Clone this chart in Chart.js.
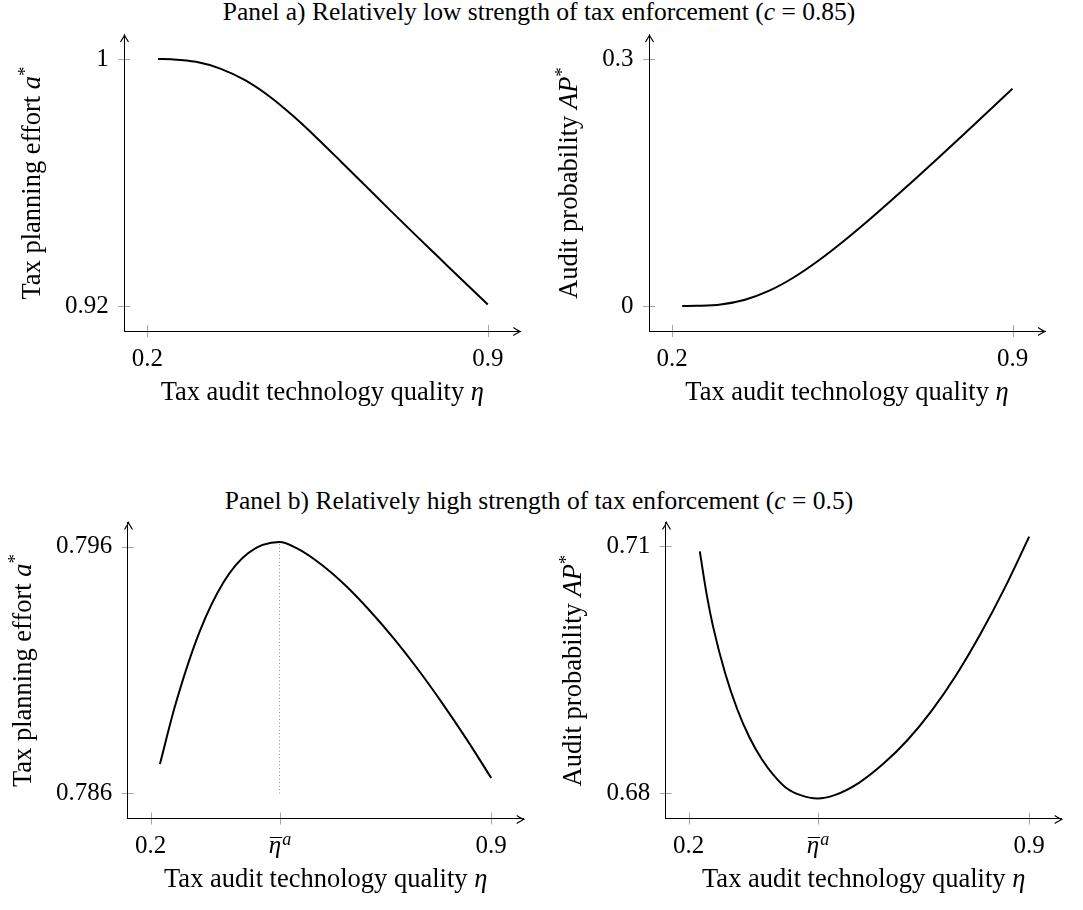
<!DOCTYPE html>
<html>
<head>
<meta charset="utf-8">
<script src="https://cdn.jsdelivr.net/npm/chart.js@4.4.1/dist/chart.umd.min.js"></script>
<style>
  body { margin: 0; background: #fff; width: 1083px; height: 910px; position: relative; overflow: hidden; font-family: "Liberation Serif", "Times New Roman", serif; }
  .titulo { position: absolute; left: 0; width: 1078px; text-align: center; font-size: 25.5px; line-height: 1; color: #000; white-space: nowrap; }
  canvas { position: absolute; }
</style>
</head>
<body>
<div class="titulo" style="top:-1px">Panel a) Relatively low strength of tax enforcement (<i>c</i> = 0.85)</div>
<div class="titulo" style="top:487.5px">Panel b) Relatively high strength of tax enforcement (<i>c</i> = 0.5)</div>
<canvas id="graficoAEsq"></canvas>
<canvas id="graficoADir"></canvas>
<canvas id="graficoBEsq"></canvas>
<canvas id="graficoBDir"></canvas>
<script>
// valores
const ETA_BAR = 0.4648;

const etaEsforcoA = [0.222, 0.25, 0.30, 0.35, 0.40, 0.45, 0.50, 0.55, 0.60, 0.65, 0.70, 0.75, 0.80, 0.85, 0.90];
const esforcoA = [1.0000, 0.9999, 0.9991, 0.9969, 0.9932, 0.9880, 0.9815, 0.9742, 0.9665, 0.9587, 0.9509, 0.9432, 0.9356, 0.9280, 0.9205];

const etaProbA = [0.221, 0.25, 0.30, 0.35, 0.40, 0.45, 0.50, 0.55, 0.60, 0.65, 0.70, 0.75, 0.80, 0.85, 0.90];
const probA = [0.0000, 0.0002, 0.0018, 0.0076, 0.0186, 0.0346, 0.0546, 0.0774, 0.1020, 0.1278, 0.1543, 0.1813, 0.2086, 0.2362, 0.2640];

const etaEsforcoB = [0.219, 0.25, 0.30, 0.35, 0.40, ETA_BAR, 0.50, 0.55, 0.60, 0.65, 0.70, 0.75, 0.80, 0.85, 0.90];
const esforcoB = [0.78719, 0.78954, 0.79252, 0.79456, 0.79573, 0.79618, 0.79593, 0.79528, 0.79443, 0.79341, 0.79227, 0.79101, 0.78964, 0.78818, 0.78663];

const etaProbB = [0.2228, 0.2375, 0.25, 0.275, 0.30, 0.325, 0.35, 0.375, 0.40, 0.43, ETA_BAR, 0.50, 0.55, 0.60, 0.65, 0.70, 0.75, 0.80, 0.85, 0.90];
const probB = [0.7094, 0.7040, 0.7003, 0.6946, 0.6902, 0.6868, 0.6842, 0.6822, 0.6807, 0.6798, 0.6794, 0.6798, 0.6813, 0.6836, 0.6865, 0.6901, 0.6944, 0.6994, 0.7050, 0.7112];

const ticksXA = [0.2, 0.9];
const ticksXB = [0.2, ETA_BAR, 0.9];
const ticksEsforcoA = [0.92, 1];
const ticksProbA = [0, 0.3];
const ticksEsforcoB = [0.786, 0.796];
const ticksProbB = [0.68, 0.71];

const tituloX = [{ t: "Tax audit technology quality " }, { t: "η", i: true }];
const tituloEsforco = [{ t: "Tax planning effort " }, { t: "a", i: true }, { t: "*", sup: true }];
const tituloProb = [{ t: "Audit probability " }, { t: "AP", i: true }, { t: "*", sup: true }];

// geometria
const FONTE = '"Liberation Serif", "Times New Roman", serif';
const TAM_TICK = 25;
const TAM_TITULO = 26.5;
const LARG_AREA = 396;
const ALT_AREA = 296;
const MARGEM_ESQ = 23, MARGEM_DIR = 32.5, MARGEM_SUP = 24, MARGEM_INF = 25;
const LARG_Y = 100, ALT_X = 60;
const PAD_TICK_Y = 15.5;

function fonte(p, tam) {
  return (p.i ? "italic " : "") + (p.sup ? tam * 0.72 : tam) + "px " + FONTE;
}

function textoRico(ctx, partes, x, y, tam) {
  let total = 0;
  partes.forEach((p) => {
    ctx.font = fonte(p, tam);
    total += ctx.measureText(p.t).width;
  });
  let cx = x - total / 2;
  partes.forEach((p) => {
    ctx.font = fonte(p, tam);
    ctx.fillText(p.t, cx, y - (p.sup ? tam * 0.36 : 0));
    cx += ctx.measureText(p.t).width;
  });
}

const pluginEixos = {
  id: "eixos",
  beforeDraw(chart) {
    const { ctx, chartArea: a, scales } = chart;
    ctx.save();
    ctx.strokeStyle = "#a6a6a6";
    ctx.lineWidth = 1;
    ctx.beginPath();
    scales.x.ticks.forEach((t) => {
      const px = Math.round(scales.x.getPixelForValue(t.value)) + 0.5;
      ctx.moveTo(px, a.bottom - 6);
      ctx.lineTo(px, a.bottom + 6);
    });
    scales.y.ticks.forEach((t) => {
      const py = Math.round(scales.y.getPixelForValue(t.value)) + 0.5;
      ctx.moveTo(a.left - 6, py);
      ctx.lineTo(a.left + 6, py);
    });
    ctx.stroke();
    ctx.restore();
  },
  afterDraw(chart, args, opts) {
    const { ctx, chartArea: a, scales } = chart;
    ctx.save();
    ctx.strokeStyle = "#000";
    ctx.fillStyle = "#000";
    ctx.lineWidth = 1.1;

    // setas nos eixos
    const yx = Math.round(a.bottom) + 0.5;
    ctx.beginPath();
    ctx.moveTo(a.right - 7, yx - 4);
    ctx.quadraticCurveTo(a.right - 2, yx - 0.8, a.right, yx);
    ctx.quadraticCurveTo(a.right - 2, yx + 0.8, a.right - 7, yx + 4);
    ctx.stroke();
    const xy = Math.round(a.left) + 0.5;
    ctx.beginPath();
    ctx.moveTo(xy - 4, a.top + 7);
    ctx.quadraticCurveTo(xy - 0.8, a.top + 2, xy, a.top);
    ctx.quadraticCurveTo(xy + 0.8, a.top + 2, xy + 4, a.top + 7);
    ctx.stroke();

    ctx.textBaseline = "alphabetic";
    ctx.textAlign = "left";

    // rotulo eta barra
    if (opts.etaBar) {
      const px = scales.x.getPixelForValue(ETA_BAR);
      const base = a.bottom + 34.5;
      ctx.font = "italic " + TAM_TICK + "px " + FONTE;
      const wEta = ctx.measureText("η").width;
      ctx.font = "italic " + TAM_TICK * 0.72 + "px " + FONTE;
      const wA = ctx.measureText("a").width;
      const x0 = px - (wEta + wA) / 2;
      ctx.font = "italic " + TAM_TICK + "px " + FONTE;
      ctx.fillText("η", x0, base);
      ctx.font = "italic " + TAM_TICK * 0.72 + "px " + FONTE;
      ctx.fillText("a", x0 + wEta + 1, base - 8.5);
      ctx.lineWidth = 1;
      ctx.beginPath();
      ctx.moveTo(x0 + 1, base - 15.5);
      ctx.lineTo(x0 + wEta + 1, base - 15.5);
      ctx.stroke();
    }

    // titulo do eixo x
    textoRico(ctx, opts.tituloX, (a.left + a.right) / 2, a.bottom + 68.5, TAM_TITULO);

    // titulo do eixo y, afastado conforme o rotulo mais largo
    ctx.font = TAM_TICK + "px " + FONTE;
    let maior = 0;
    scales.y.ticks.forEach((t) => {
      maior = Math.max(maior, ctx.measureText(t.label).width);
    });
    const bx = a.left - PAD_TICK_Y - maior - 25;
    ctx.translate(bx, (a.top + a.bottom) / 2);
    ctx.rotate(-Math.PI / 2);
    textoRico(ctx, opts.tituloY, 0, 0, TAM_TITULO);
    ctx.restore();
  }
};

function faixa(ticks, tamanho, m1, m2) {
  const lo = ticks[0], hi = ticks[ticks.length - 1];
  const porPx = (hi - lo) / (tamanho - m1 - m2);
  return { min: lo - m1 * porPx, max: hi + m2 * porPx };
}

function pares(xs, ys) {
  return xs.map((x, i) => ({ x: x, y: ys[i] }));
}

function criarGrafico(id, caixa, area, cfg) {
  const canvas = document.getElementById(id);
  canvas.width = caixa.w;
  canvas.height = caixa.h;
  canvas.style.left = caixa.x + "px";
  canvas.style.top = caixa.y + "px";

  const fx = faixa([cfg.ticksX[0], cfg.ticksX[cfg.ticksX.length - 1]], LARG_AREA, MARGEM_ESQ, MARGEM_DIR);
  const fy = faixa(cfg.ticksY, ALT_AREA, MARGEM_INF, MARGEM_SUP);

  const datasets = [
    {
      data: pares(cfg.eta, cfg.valores),
      borderColor: "#000",
      borderWidth: 2,
      pointRadius: 0,
      cubicInterpolationMode: "monotone",
      fill: false
    }
  ];

  if (cfg.linhaPico) {
    const i = cfg.eta.indexOf(ETA_BAR);
    datasets.push({
      data: [{ x: ETA_BAR, y: cfg.ticksY[0] }, { x: ETA_BAR, y: cfg.valores[i] }],
      borderColor: "#8c8c8c",
      borderWidth: 1,
      borderDash: [1, 2.5],
      pointRadius: 0
    });
  }

  const fixarTamanho = (prop, valor) => (scale) => {
    scale[prop] = valor;
    scale.paddingTop = 0;
    scale.paddingBottom = 0;
    scale.paddingLeft = 0;
    scale.paddingRight = 0;
  };

  return new Chart(canvas, {
    type: "line",
    data: { datasets },
    plugins: [pluginEixos],
    options: {
      responsive: false,
      animation: false,
      events: [],
      devicePixelRatio: 1,
      layout: {
        padding: {
          left: area.x - caixa.x - LARG_Y,
          top: area.y - caixa.y,
          right: caixa.x + caixa.w - (area.x + LARG_AREA),
          bottom: caixa.y + caixa.h - (area.y + ALT_AREA) - ALT_X
        }
      },
      plugins: {
        legend: { display: false },
        tooltip: { enabled: false },
        eixos: { tituloX: tituloX, tituloY: cfg.tituloY, etaBar: cfg.ticksX.length > 2 }
      },
      scales: {
        x: {
          type: "linear",
          position: "bottom",
          min: fx.min,
          max: fx.max,
          grid: { display: false, drawTicks: false },
          border: { display: true, color: "#000", width: 1 },
          ticks: {
            color: "#000",
            font: { family: FONTE, size: TAM_TICK },
            padding: 13,
            maxRotation: 0,
            autoSkip: false,
            callback: (v) => (v === ETA_BAR ? "" : String(v))
          },
          afterBuildTicks: (s) => { s.ticks = cfg.ticksX.map((v) => ({ value: v })); },
          afterFit: fixarTamanho("height", ALT_X)
        },
        y: {
          type: "linear",
          position: "left",
          min: fy.min,
          max: fy.max,
          grid: { display: false, drawTicks: false },
          border: { display: true, color: "#000", width: 1 },
          ticks: {
            color: "#000",
            font: { family: FONTE, size: TAM_TICK },
            padding: PAD_TICK_Y,
            autoSkip: false,
            callback: (v) => String(v)
          },
          afterBuildTicks: (s) => { s.ticks = cfg.ticksY.map((v) => ({ value: v })); },
          afterFit: fixarTamanho("width", LARG_Y)
        }
      }
    }
  });
}

criarGrafico("graficoAEsq", { x: 0, y: 28, w: 541, h: 402 }, { x: 124.3, y: 35 }, {
  eta: etaEsforcoA, valores: esforcoA, ticksX: ticksXA, ticksY: ticksEsforcoA, tituloY: tituloEsforco
});
criarGrafico("graficoADir", { x: 541, y: 28, w: 542, h: 402 }, { x: 649, y: 35 }, {
  eta: etaProbA, valores: probA, ticksX: ticksXA, ticksY: ticksProbA, tituloY: tituloProb
});
criarGrafico("graficoBEsq", { x: 0, y: 516, w: 541, h: 394 }, { x: 127.7, y: 522.5 }, {
  eta: etaEsforcoB, valores: esforcoB, ticksX: ticksXB, ticksY: ticksEsforcoB, tituloY: tituloEsforco, linhaPico: true
});
criarGrafico("graficoBDir", { x: 541, y: 516, w: 542, h: 394 }, { x: 665.7, y: 522.5 }, {
  eta: etaProbB, valores: probB, ticksX: ticksXB, ticksY: ticksProbB, tituloY: tituloProb
});
</script>
</body>
</html>
